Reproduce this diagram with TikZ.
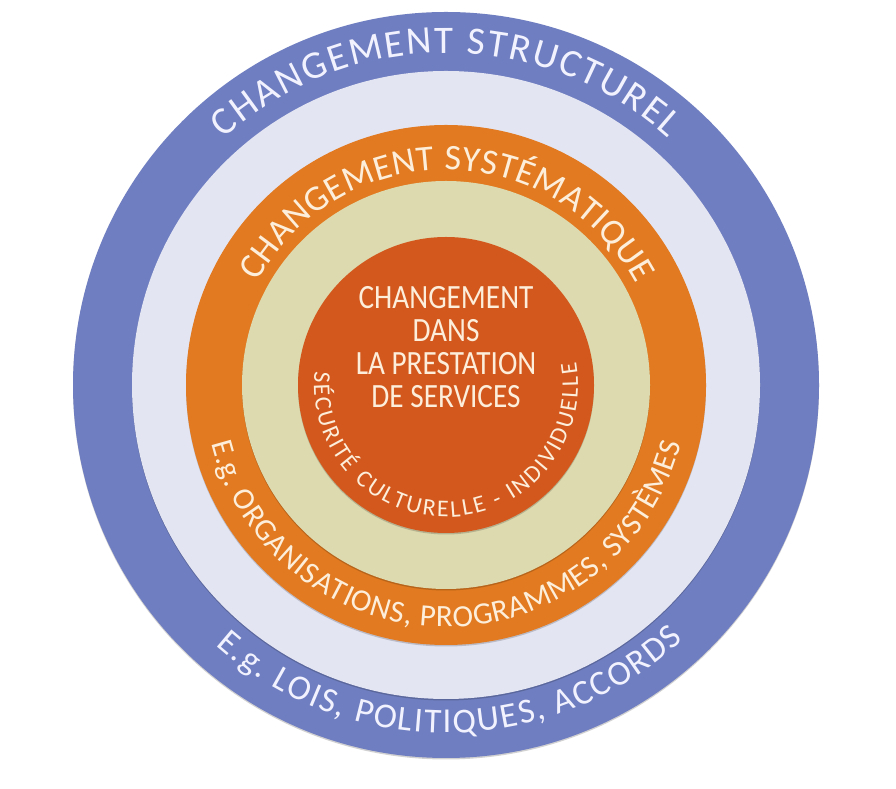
\documentclass[tikz,border=0pt]{standalone}
\usepackage{fontspec}
\setmainfont{Carlito}
\newfontfamily\ringfont{Carlito}
\newfontfamily\corefont{Carlito}[FakeStretch=0.86]
\usetikzlibrary{decorations.text}

\begin{document}
\begin{tikzpicture}[x=1pt,y=1pt]
  % Colors
  \definecolor{bluering}{HTML}{6F7EC0}
  \definecolor{lavender}{HTML}{E4E5F3}
  \definecolor{orangering}{HTML}{E17A20}
  \definecolor{beige}{HTML}{DDDAAF}
  \definecolor{redcore}{HTML}{D2581E}
  \colorlet{bluetext}{white!95!blue}
  \definecolor{creamtext}{HTML}{FCEEDA}

  % Styles
  \tikzstyle{shade ring}=[preaction={fill=black,opacity=0.18,transform canvas={yshift=-1.5pt}}]
  \tikzstyle{ring text}=[decorate,decoration={text along path,text align={fit to path}}]

  % The graphic
  \useasboundingbox (0,0) rectangle (896,789);
  \fill[white] (0,0) rectangle (896,789);
  \coordinate (c) at (446,404);

  \fill[style=shade ring,bluering]   (c) circle[radius=373pt];
  \fill[style=shade ring,lavender]   (c) circle[radius=314pt];
  \fill[style=shade ring,orangering] (c) circle[radius=260pt];
  \fill[style=shade ring,beige]      (c) circle[radius=204pt];
  \fill[style=shade ring,redcore]    (c) circle[radius=148pt];

  % outer ring
  \path[style=ring text,decoration={text={|\ringfont\fontsize{39}{40}\selectfont\color{bluetext}|CHANGEMENT STRUCTUREL}}]
    (c) ++(132:332pt) arc[start angle=132,end angle=48,radius=332pt];
  \path[style=ring text,decoration={text={|\ringfont\fontsize{35}{36}\selectfont\color{bluetext}|E.g. LOIS, POLITIQUES, ACCORDS}}]
    (c) ++(228.5:348pt) arc[start angle=228.5,end angle=313,radius=348pt];

  % orange ring
  \path[style=ring text,decoration={text={|\ringfont\fontsize{36}{38}\selectfont\color{creamtext}|CHANGEMENT SYSTÉMATIQUE}}]
    (c) ++(151.4:215pt) arc[start angle=151.4,end angle=28,radius=215pt];
  \path[style=ring text,decoration={text={|\ringfont\fontsize{31}{33}\selectfont\color{creamtext}|E.g. ORGANISATIONS, PROGRAMMES, SYSTÈMES}}]
    (c) ++(194:242pt) arc[start angle=194,end angle=346,radius=242pt];

  % core
  \path[style=ring text,decoration={text={|\ringfont\fontsize{24}{26}\selectfont\color{creamtext}|SÉCURITÉ CULTURELLE - INDIVIDUELLE}}]
    (c) ++(174:132pt) arc[start angle=174,end angle=370,radius=132pt];
  \node[align=center,inner sep=0pt,text=creamtext,font=\corefont\fontsize{34}{33}\selectfont]
    (core) at (446,441.5) {CHANGEMENT\\DANS\\LA PRESTATION\\DE SERVICES};
\end{tikzpicture}
\end{document}
